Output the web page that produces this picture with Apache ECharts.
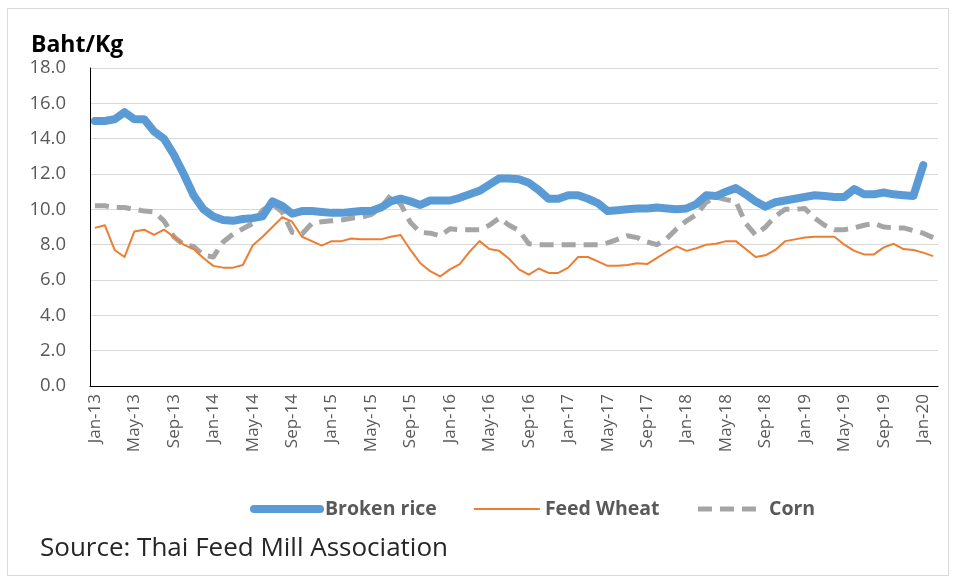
<!DOCTYPE html>
<html lang="en">
<head>
<meta charset="UTF-8">
<title>Baht/Kg</title>
<script src="https://cdn.jsdelivr.net/npm/echarts@6/dist/echarts.min.js"></script>
<style>
  html, body { margin: 0; padding: 0; background: #fff; }
  #chart { width: 957px; height: 577px; }
</style>
</head>
<body>
<div id="chart"></div>
<script>
// monthly, Jan-13 .. Feb-20
var monthNames = ['Jan', 'Feb', 'Mar', 'Apr', 'May', 'Jun', 'Jul', 'Aug', 'Sep', 'Oct', 'Nov', 'Dec'];
var months = [];
for (var y = 13; y <= 20; y++) {
  for (var m = 0; m < 12; m++) {
    if (y == 20 && m > 1) break;
    months.push(monthNames[m] + '-' + y);
  }
}

var brokenRice = [
  15.0, 15.0, 15.1, 15.5, 15.1, 15.1, 14.4, 14.0, 13.1, 12.0, 10.8, 10.0, 9.6, 9.4, 9.35,
  9.45, 9.5, 9.6, 10.45, 10.2, 9.75, 9.9, 9.9, 9.85, 9.8, 9.8, 9.85, 9.9, 9.9,
  10.1, 10.45, 10.6, 10.45, 10.25, 10.5, 10.5, 10.5, 10.65, 10.85, 11.05, 11.4, 11.75, 11.75, 11.7,
  11.5, 11.1, 10.6, 10.6, 10.8, 10.8, 10.6, 10.35, 9.9, 9.95, 10.0, 10.05, 10.05, 10.1,
  10.05, 10.0, 10.05, 10.3, 10.8, 10.75, 11.0, 11.2, 10.85, 10.45, 10.15, 10.4, 10.5, 10.6, 10.7,
  10.8, 10.75, 10.7, 10.7, 11.15, 10.85, 10.85, 10.95, 10.85, 10.8, 10.75, 12.5, null
];

var feedWheat = [
  8.95, 9.1, 7.7, 7.3, 8.75, 8.85, 8.55, 8.85, 8.45, 8.0, 7.75, 7.25, 6.8, 6.7, 6.7, 6.85,
  7.95, 8.45, 9.0, 9.55, 9.3, 8.45, 8.2, 7.95, 8.2, 8.2, 8.35, 8.3, 8.3,
  8.3, 8.45, 8.55, 7.7, 6.95, 6.5, 6.2, 6.6, 6.9, 7.6, 8.2, 7.75, 7.65, 7.2, 6.6,
  6.3, 6.65, 6.4, 6.4, 6.7, 7.3, 7.3, 7.05, 6.8, 6.8, 6.85, 6.95, 6.9, 7.25,
  7.6, 7.9, 7.65, 7.8, 8.0, 8.05, 8.2, 8.2, 7.75, 7.3, 7.4, 7.7, 8.2, 8.3, 8.4,
  8.45, 8.45, 8.45, 8.0, 7.65, 7.45, 7.45, 7.85, 8.05, 7.75, 7.7, 7.55, 7.35
];

var corn = [
  10.2, 10.2, 10.1, 10.1, 10.0, 9.9, 9.85, 9.35, 8.45, 8.0, 7.9, 7.4, 7.3, 8.15, 8.6,
  8.9, 9.2, 9.95, 10.3, 9.85, 8.7, 8.6, 9.2, 9.3, 9.35, 9.4, 9.5, 9.55, 9.7,
  10.1, 10.8, 10.3, 9.25, 8.7, 8.65, 8.5, 8.9, 8.85, 8.85, 8.85, 9.1, 9.5, 9.1, 8.8,
  8.05, 8.0, 8.0, 8.0, 8.0, 8.0, 8.0, 8.0, 8.1, 8.3, 8.5, 8.4, 8.15, 8.0,
  8.35, 8.9, 9.35, 9.7, 10.4, 10.7, 10.55, 10.45, 9.2, 8.55, 9.0, 9.6, 10.0, 10.0, 10.05,
  9.5, 9.1, 8.85, 8.85, 8.95, 9.1, 9.2, 9.0, 8.95, 8.95, 8.8, 8.65, 8.4
];

var seriesNames = ['Broken rice', 'Feed Wheat', 'Corn'];
var colors = ['#5b9bd5', '#ed7d31', '#a5a5a5'];

var myChart = echarts.init(document.getElementById('chart'));
var font = '"Open Sans", "DejaVu Sans", sans-serif';

var option = {
  animation: false,
  color: colors,
  title: {
    text: 'Baht/Kg',
    left: 26,
    top: 29,
    textStyle: { fontFamily: font, fontSize: 23, fontWeight: 'bold', color: '#000' }
  },
  grid: { left: 90, right: 19, top: 68, bottom: 191 },
  legend: {
    bottom: 53,
    left: 245,
    itemWidth: 66,
    itemHeight: 14,
    itemGap: 36,
    textStyle: { fontFamily: font, fontSize: 19.5, fontWeight: 'bold', color: '#595959' },
    data: [
      { name: seriesNames[0], itemStyle: { opacity: 0 }, lineStyle: { width: 8, cap: 'round' } },
      { name: seriesNames[1], itemStyle: { opacity: 0 }, lineStyle: { width: 2 } },
      { name: seriesNames[2], itemStyle: { opacity: 0 }, lineStyle: { width: 5, type: [14, 8] } }
    ]
  },
  xAxis: {
    type: 'category',
    data: months,
    boundaryGap: true,
    axisLine: { lineStyle: { color: '#000', width: 1 } },
    axisTick: { interval: 3, length: 5, lineStyle: { color: '#000' } },
    axisLabel: {
      interval: 3,
      rotate: 90,
      margin: 8,
      fontFamily: font,
      fontSize: 17,
      color: '#595959'
    },
    splitLine: { show: false }
  },
  yAxis: {
    type: 'value',
    min: 0,
    max: 18,
    interval: 2,
    axisLine: { show: true, lineStyle: { color: '#000', width: 1 } },
    axisTick: { show: false },
    axisLabel: {
      margin: 24,
      fontFamily: font,
      fontSize: 18.5,
      color: '#595959',
      formatter: function (v) { return v.toFixed(1); }
    },
    splitLine: { lineStyle: { color: '#d9d9d9', width: 1 } }
  },
  series: [
    {
      name: seriesNames[0],
      type: 'line',
      data: brokenRice,
      symbol: 'none',
      z: 3,
      lineStyle: { width: 8, color: colors[0], cap: 'round', join: 'round' }
    },
    {
      name: seriesNames[1],
      type: 'line',
      data: feedWheat,
      symbol: 'none',
      z: 4,
      lineStyle: { width: 2, color: colors[1], join: 'round' }
    },
    {
      name: seriesNames[2],
      type: 'line',
      data: corn,
      symbol: 'none',
      z: 2,
      lineStyle: { width: 5, color: colors[2], type: [14, 8], join: 'round' }
    }
  ],
  graphic: [
    {
      type: 'rect',
      shape: { x: 7.5, y: 8.5, width: 941, height: 567 },
      style: { fill: 'none', stroke: '#d9d9d9', lineWidth: 1 },
      silent: true
    },
    {
      type: 'text',
      left: 40,
      top: 536,
      style: {
        text: 'Source: Thai Feed Mill Association',
        fontFamily: font,
        fontSize: 26,
        fill: '#262626'
      }
    }
  ]
};

myChart.setOption(option);
</script>
</body>
</html>
